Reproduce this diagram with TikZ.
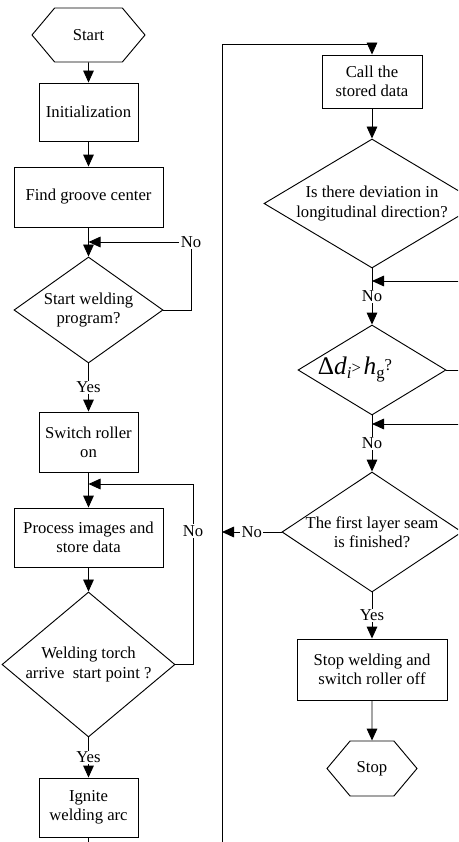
\documentclass[tikz,border=0pt]{standalone}
\usepackage{fontspec}
\setmainfont{LiberationSerif}[Extension=.ttf,UprightFont=*-Regular,ItalicFont=*-Italic,BoldFont=*-Bold,BoldItalicFont=*-BoldItalic]
\usetikzlibrary{shapes.geometric,shapes.symbols,arrows.meta}

\tikzset{
  every node/.style={font=\rmfamily\fontsize{12.5}{14.3}\selectfont},
  block/.style={draw,rectangle,align=center,inner sep=1pt},
  decision/.style={draw,diamond,inner sep=0pt},
  terminal/.style={draw,signal,signal to=west and east,signal pointer angle=100,inner sep=0pt},
  flow/.style={-{Triangle[length=9pt,width=8pt]}},
  lbl/.style={fill=white,inner sep=1pt}
}

\begin{document}
\begin{tikzpicture}[x=0.75pt,y=-0.75pt,line width=0.7pt]
\useasboundingbox (0,0) rectangle (458,842);
\clip (0,0) rectangle (458,842);

% left column
\node[terminal,minimum width=84.75pt,minimum height=40.5pt] (start) at (88.5,35) {Start};
\node[block,minimum width=74.25pt,minimum height=43.5pt] (init) at (88.5,112) {Initialization};
\node[block,minimum width=111.75pt,minimum height=45pt] (find) at (88.5,197) {Find groove center};
\node[decision,minimum width=111.75pt,minimum height=79.5pt] (d1) at (88.5,310) {};
\node[align=center] (d1t) at (d1) {Start welding\\program?};
\node[block,minimum width=74.25pt,minimum height=45pt] (switch) at (88.5,442) {Switch roller\\on};
\node[block,minimum width=111.75pt,minimum height=44.25pt] (proc) at (88.5,537.5) {Process images and\\store data};
\node[decision,minimum width=129.75pt,minimum height=108.75pt] (d2) at (88.5,664.5) {};
\node[align=center] (d2t) at (d2) {Welding torch\\arrive\ \ start point ?};
\node[block,minimum width=74.25pt,minimum height=44.25pt] (ignite) at (88.5,807.5) {Ignite\\welding arc};

\draw[flow] (start) -- (init);
\draw[flow] (init) -- (find);
\draw[flow] (find) -- (d1);
\draw[flow] (d1) -- node[lbl] {Yes} (switch);
\draw[flow] (switch) -- (proc);
\draw[flow] (proc) -- (d2);
\draw[flow] (d2) -- node[lbl] {Yes} (ignite);
\draw (ignite.south) -- ++(0,10);

% loops back on the left
\node[lbl] (no1) at (191,242) {No};
\draw (d1.east) -| (no1.south);
\draw[flow] (no1.west) -- (no1.west -| find.south);
\node[lbl] (no2) at (193,531) {No};
\coordinate (j2) at (88.5,484);
\draw (d2.east) -| (no2.south);
\draw[flow] (no2.north) |- (j2);

% right column
\node[block,minimum width=75pt,minimum height=39.75pt] (call) at (372,81.5) {Call the\\stored data};
\node[decision,minimum width=162pt,minimum height=96.75pt] (d3) at (372,203.5) {};
\node[align=center] (d3t) at (d3) {Is there deviation in\\longitudinal direction?};
\node[decision,minimum width=111pt,minimum height=67.5pt] (d4) at (372,370) {};
\node (d4t) at (355,370) {{\fontsize{19}{20}\selectfont Δ\textit{d}}\raisebox{-3pt}{\textit{i}}\raisebox{1pt}{>}\,{\fontsize{19}{20}\selectfont\textit{h}}\raisebox{-3pt}{g}\raisebox{3pt}{?}};
\node[decision,minimum width=135pt,minimum height=90pt] (d5) at (372,532) {};
\node[align=center] (d5t) at (d5) {The first layer seam\\is finished?};
\node[block,minimum width=112.5pt,minimum height=45.75pt] (stopw) at (372,669.5) {Stop welding and\\switch roller off};
\node[terminal,minimum width=67.5pt,minimum height=41.25pt] (stop) at (372,768.5) {Stop};

\draw[flow] (call) -- (d3);
\draw[flow] (d3) -- node[lbl] {No} (d4);
\draw[flow] (d4) -- node[lbl] {No} (d5);
\draw[flow] (d5) -- node[lbl] {Yes} (stopw);
\draw[flow] (stopw) -- (stop);

% branches leaving to the right
\coordinate (r1) at (470,281);
\coordinate (r2) at (470,424);
\draw[flow] (r1) -- (r1 -| d3.south);
\draw[flow] (r2) -- (r2 -| d4.south);
\draw (d4.east) -- ++(30,0);

% main loop line
\coordinate (lb) at (222,850);
\coordinate (lt) at (222,44);
\draw[flow] (lb) -- (lt) -| (call.north);
\draw[flow] (d5.west) -- node[lbl] {No} (d5.west -| lt);
\end{tikzpicture}
\end{document}
